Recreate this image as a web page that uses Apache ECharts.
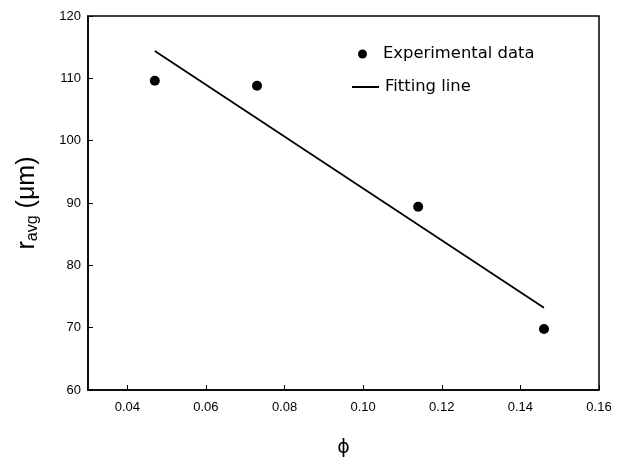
<!DOCTYPE html>
<html>
<head>
<meta charset="utf-8">
<script src="https://cdn.jsdelivr.net/npm/echarts@6/dist/echarts.min.js"></script>
<style>
  html, body { margin: 0; padding: 0; background: #fff; }
  #chart { width: 626px; height: 459px; }
</style>
</head>
<body>
<div id="chart"></div>
<script>
// Mean radius against volume fraction
const phiValues = [0.047, 0.073, 0.114, 0.146];
const radiusValues = [109.6, 108.8, 89.4, 69.8];

// Straight-line fit, drawn between its two end points
const fitPhi = [0.047, 0.146];
const fitRadius = [114.4, 73.2];

// Axis ranges and tick positions
const xRange = [0.03, 0.16];
const xTickValues = [0.04, 0.06, 0.08, 0.10, 0.12, 0.14, 0.16];
const yRange = [60, 120];
const yTickValues = [60, 70, 80, 90, 100, 110, 120];

const expData = phiValues.map((x, i) => [x, radiusValues[i]]);
const fitData = fitPhi.map((x, i) => [x, fitRadius[i]]);

const FONT = 'Liberation Sans, Arial, sans-serif';
const LEGEND_FONT = 'DejaVu Sans, sans-serif';
const chart = echarts.init(document.getElementById('chart'), null, { renderer: 'canvas' });

chart.setOption({
  animation: false,
  backgroundColor: '#fff',
  grid: {
    left: 88, right: 27, top: 16, bottom: 69,
    outerBoundsMode: 'none',
    containLabel: false,
    show: true, borderColor: '#000', borderWidth: 1.5
  },
  legend: [
    {
      data: ['Experimental data'],
      left: 353, top: 41,
      icon: 'circle', itemWidth: 9, itemHeight: 9, itemGap: 0,
      textStyle: { fontFamily: LEGEND_FONT, fontSize: 16.4, color: '#000', padding: [0, 0, 0, 11] }
    },
    {
      data: ['Fitting line'],
      left: 347, top: 74,
      icon: 'rect', itemWidth: 27, itemHeight: 2,
      textStyle: { fontFamily: LEGEND_FONT, fontSize: 16.4, color: '#000', padding: [0, 0, 0, 1] }
    }
  ],
  xAxis: {
    type: 'value',
    min: xRange[0], max: xRange[1],
    name: 'ϕ',
    nameLocation: 'middle',
    nameGap: 49,
    nameTextStyle: { fontFamily: 'DejaVu Sans, sans-serif', fontSize: 19, color: '#000' },
    axisLine: { show: true, lineStyle: { color: '#000', width: 1.5 } },
    axisTick: { show: true, inside: true, length: 5, customValues: xTickValues, lineStyle: { color: '#000' } },
    axisLabel: {
      fontFamily: FONT, fontSize: 13, color: '#000', margin: 11,
      customValues: xTickValues,
      formatter: v => v.toFixed(2)
    },
    splitLine: { show: false }
  },
  yAxis: {
    type: 'value',
    min: yRange[0], max: yRange[1],
    name: '{r|r}{sub|avg}{r| (μm)}',
    nameLocation: 'middle',
    nameGap: 47,
    nameRotate: 90,
    nameTextStyle: {
      color: '#000',
      rich: {
        r: { fontFamily: FONT, fontSize: 25, color: '#000' },
        sub: { fontFamily: FONT, fontSize: 16, color: '#000', verticalAlign: 'bottom', padding: [11, 0, 0, 0] }
      }
    },
    axisLine: { show: true, lineStyle: { color: '#000', width: 1.5 } },
    axisTick: { show: true, inside: true, length: 5, customValues: yTickValues, lineStyle: { color: '#000' } },
    axisLabel: { fontFamily: FONT, fontSize: 13, color: '#000', margin: 7, customValues: yTickValues },
    splitLine: { show: false }
  },
  series: [
    {
      name: 'Experimental data',
      type: 'scatter',
      data: expData,
      symbol: 'circle',
      symbolSize: 10,
      itemStyle: { color: '#000', opacity: 1 }
    },
    {
      name: 'Fitting line',
      type: 'line',
      data: fitData,
      symbol: 'none',
      lineStyle: { color: '#000', width: 1.8 },
      itemStyle: { color: '#000' }
    }
  ]
});
</script>
</body>
</html>
